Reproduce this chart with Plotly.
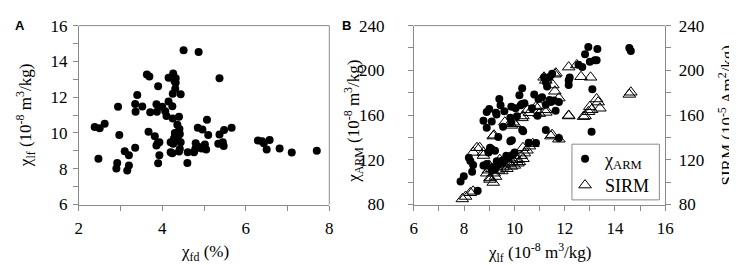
import plotly.graph_objects as go

# ---------------- Data ----------------
# Panel A: chi_fd (%) vs chi_lf (1e-8 m3/kg)
chi_fd = [4.51, 4.87, 3.63, 3.69, 4.15, 4.26, 4.32, 4.29, 4.32, 3.90, 3.40, 5.37, 4.31, 4.25, 4.44,
          2.94, 3.35, 3.52, 3.36, 3.86, 3.71, 3.87, 4.00, 4.07, 4.10, 4.15, 4.24, 4.25, 4.40, 4.36,
          4.41, 4.42, 4.37, 4.32, 4.26, 4.20, 3.67, 3.82, 3.89, 3.93, 3.86, 3.90, 3.93, 4.20, 4.24,
          4.44, 4.42, 4.40, 4.61, 4.60, 4.79, 4.80, 4.76, 4.85, 4.96, 5.07, 5.10, 4.88, 4.94, 5.02,
          5.05, 5.34, 5.37, 5.45, 5.47, 5.48, 5.66, 2.38, 2.50, 2.62, 2.47, 2.97, 3.10, 3.20, 3.35,
          2.92, 2.90, 3.20, 3.16, 6.29, 6.39, 6.43, 6.57, 6.50, 6.81, 7.10, 7.70, 4.30, 4.34, 4.28]
chi_lf_a = [14.62, 14.53, 13.27, 13.16, 13.08, 13.32, 13.06, 12.90, 12.80, 12.61, 12.12, 13.06, 12.47, 12.19, 12.16,
            11.47, 11.62, 11.48, 11.19, 11.61, 11.16, 11.19, 11.46, 11.21, 10.95, 11.76, 11.50, 10.81, 10.91, 10.46,
            10.22, 9.94, 9.74, 9.56, 9.39, 9.48, 10.07, 9.82, 9.43, 9.48, 9.30, 8.30, 8.75, 8.92, 8.87,
            9.48, 9.10, 8.96, 8.92, 8.32, 9.10, 9.43, 8.92, 10.29, 10.20, 10.74, 9.89, 9.22, 9.13, 9.36,
            9.08, 9.39, 9.91, 9.48, 9.27, 10.17, 10.29, 10.34, 10.26, 10.52, 8.56, 9.88, 8.98, 8.75, 9.18,
            8.32, 8.01, 8.18, 7.90, 9.58, 9.53, 9.43, 9.60, 9.08, 9.13, 8.91, 9.01, 10.00, 9.85, 9.70]

# Panel B: chi_lf vs chi_ARM (1e-8 m3/kg)
arm_x = [14.57, 14.63, 12.94, 13.30, 12.81, 13.20, 13.00, 13.27, 12.16, 12.16, 12.20, 13.10, 13.07,
         11.18, 11.25, 11.30, 10.31, 10.20, 10.79, 10.96, 9.40, 9.45, 9.88, 10.05, 10.25, 11.25, 11.45,
         11.58, 11.77, 8.90, 9.27, 11.64, 9.29, 9.84, 10.10, 8.77, 9.10, 8.90, 9.36, 9.55, 9.88, 10.31,
         10.35, 10.92, 11.25, 11.77, 9.84, 9.90, 10.57, 10.86, 9.03, 9.10, 9.23, 8.97, 8.19, 8.25, 8.36,
         8.32, 8.77, 8.90, 9.16, 10.01, 9.92, 9.68, 9.75, 9.55, 9.49, 9.30, 9.36, 9.23, 9.10, 7.99, 7.86,
         8.54, 9.00, 9.60, 10.30, 10.70, 11.40, 11.10, 10.40, 11.50, 11.40, 12.55, 12.70]
arm_y = [220.1, 217.3, 220.9, 219.2, 214.5, 209.0, 207.6, 209.0, 191.0, 186.9, 193.5, 183.2, 145.0,
         193.8, 189.6, 185.5, 184.1, 177.7, 178.5, 174.4, 174.4, 168.8, 167.5, 166.1, 168.8, 169.4, 171.6,
         173.0, 171.6, 162.8, 162.0, 163.9, 160.5, 157.7, 159.0, 155.0, 154.2, 148.6, 140.3, 149.5, 153.4, 146.7,
         145.5, 159.3, 146.7, 139.5, 136.5, 137.5, 135.3, 135.1, 130.8, 129.4, 128.0, 126.5, 121.8, 119.0, 115.4,
         109.3, 114.9, 116.2, 113.4, 126.5, 124.3, 123.7, 121.0, 119.6, 116.9, 118.6, 115.9, 111.8, 110.4, 105.2, 100.5,
         92.2, 165.5, 163.5, 170.0, 166.0, 173.5, 176.0, 170.5, 197.0, 194.0, 205.0, 203.0]

# Panel B: chi_lf vs SIRM (1e-5 Am2/kg)
sirm_x = [14.57, 14.63, 13.03, 12.65, 12.16, 12.48, 11.61, 11.65, 11.18, 11.25, 11.53, 11.61, 11.77, 12.16,
          12.75, 13.00, 13.07, 12.95, 13.27, 13.33, 13.40, 11.50, 11.25, 10.86, 11.00, 10.53, 10.60, 10.34,
          10.30, 9.95, 9.82, 9.62, 9.19, 8.62, 8.77, 8.36, 8.51, 8.77, 9.16, 8.97, 9.16, 9.03, 9.03, 9.42,
          9.55, 9.36, 9.82, 9.88, 10.14, 10.20, 10.34, 10.27, 10.34, 10.60, 10.73, 10.01, 9.88, 10.99, 11.25,
          12.16, 12.81, 11.45, 11.77, 7.93, 8.06, 8.25, 8.36, 9.00, 9.10, 9.20, 9.30, 9.50, 9.60, 9.70, 9.90,
          10.00, 10.10, 9.25, 8.90, 9.40, 10.40, 10.50]
sirm_y = [178.5, 180.4, 193.8, 194.3, 202.9, 204.8, 196.5, 197.5, 193.8, 191.0, 186.9, 181.3, 175.2, 159.2,
          158.6, 167.5, 164.7, 163.0, 174.4, 171.6, 166.1, 142.5, 164.7, 167.5, 168.5, 164.7, 162.0, 159.2,
          157.5, 153.6, 152.2, 153.6, 142.0, 130.8, 126.6, 126.6, 130.8, 123.8, 141.2, 110.7, 99.7, 103.8, 102.4, 120.1,
          113.4, 110.7, 116.9, 114.1, 116.9, 118.2, 120.9, 123.7, 130.8, 132.2, 134.4, 152.2, 150.8, 161.3, 162.4,
          159.7, 159.2, 141.2, 138.4, 85.0, 87.2, 90.5, 91.8, 115.0, 112.0, 108.0, 114.0, 110.0, 116.0, 112.0, 118.0,
          115.0, 120.0, 105.0, 108.0, 117.0, 126.0, 128.5]

# ---------------- Figure ----------------
W, H = 737, 265
SERIF = "Times New Roman"
SANS = "Liberation Sans"
LINE = "#8a8a8a"

def px_x(p):
    return p / W

def px_y(p):
    return 1 - p / H

fig = go.Figure()
fig.add_trace(go.Scatter(x=chi_fd, y=chi_lf_a, mode="markers", xaxis="x", yaxis="y",
                         marker=dict(color="black", size=8), showlegend=False))
fig.add_trace(go.Scatter(x=arm_x, y=arm_y, mode="markers", xaxis="x2", yaxis="y2",
                         name="χ<sub>ARM</sub>", marker=dict(color="black", size=8)))
fig.add_trace(go.Scatter(x=sirm_x, y=sirm_y, mode="markers", xaxis="x2", yaxis="y3",
                         name="SIRM",
                         marker=dict(symbol="triangle-up-open", color="black", size=11,
                                     line=dict(width=1, color="black"))))

ydom = [px_y(202), px_y(9.3)]
common = dict(showgrid=False, zeroline=False, showline=True, linecolor=LINE, linewidth=1,
              ticks="outside", ticklen=5, tickcolor=LINE,
              tickfont=dict(family=SERIF, size=17, color="black"))

fig.update_layout(
    width=W, height=H, margin=dict(l=0, r=0, t=0, b=0),
    paper_bgcolor="white", plot_bgcolor="white",
    font=dict(family=SERIF, color="black"),
    xaxis=dict(domain=[px_x(68), px_x(323)], range=[2, 8], dtick=2, anchor="y",
               minor=dict(dtick=1, ticks="outside", ticklen=5, tickcolor=LINE),
               ticklabelstandoff=3, **common),
    yaxis=dict(domain=ydom, range=[6, 16], dtick=2, anchor="x",
               minor=dict(dtick=1, ticks="outside", ticklen=5, tickcolor=LINE),
               ticklabelstandoff=2, **common),
    xaxis2=dict(domain=[px_x(409), px_x(665)], range=[6, 16], dtick=2, anchor="y2",
                minor=dict(dtick=1, ticks="outside", ticklen=5, tickcolor=LINE),
                ticklabelstandoff=3, **common),
    yaxis2=dict(domain=ydom, range=[80, 240], dtick=40, anchor="x2",
                minor=dict(dtick=20, ticks="outside", ticklen=5, tickcolor=LINE),
                ticklabelstandoff=20, **common),
    yaxis3=dict(range=[80, 240], dtick=40, overlaying="y2", side="right", anchor="x2",
                minor=dict(dtick=20, ticks="outside", ticklen=5, tickcolor=LINE),
                ticklabelstandoff=4, **common),
    legend=dict(x=px_x(563), y=px_y(133), xanchor="left", yanchor="top",
                borderwidth=0, bgcolor="rgba(0,0,0,0)",
                font=dict(family=SERIF, size=18, color="black"),
                itemwidth=30),
)

# frame lines (top/right borders) and legend box
frame = dict(type="line", xref="paper", yref="paper", line=dict(color=LINE, width=1))
fig.add_shape(x0=px_x(68), x1=px_x(323), y0=px_y(9.3), y1=px_y(9.3), **frame)
fig.add_shape(x0=px_x(323), x1=px_x(323), y0=px_y(9.3), y1=px_y(202), **frame)
fig.add_shape(x0=px_x(409), x1=px_x(665), y0=px_y(9.3), y1=px_y(9.3), **frame)
fig.add_shape(type="rect", xref="paper", yref="paper", x0=px_x(570), x1=px_x(659),
              y0=px_y(197), y1=px_y(137), line=dict(color=LINE, width=1))

# axis titles and panel letters
def ann(text, x, y, angle=0, size=16, family=SERIF, bold=False):
    fig.add_annotation(text=f"<b>{text}</b>" if bold else text, x=px_x(x), y=px_y(y),
                       xref="paper", yref="paper", showarrow=False, textangle=angle,
                       xanchor="center", yanchor="middle",
                       font=dict(family=family, size=size, color="black"))

ann("χ<sub>lf</sub> (10<sup>-8</sup> m<sup>3</sup>/kg)", 14, 106, angle=-90, size=17)
ann("χ<sub>fd</sub> (%)", 196, 254, size=17)
ann("χ<sub>lf</sub> (10<sup>-8</sup> m<sup>3</sup>/kg)", 537, 254, size=17)
ann("χ<sub>ARM</sub> (10<sup>-8</sup> m<sup>3</sup>/kg)", 348, 112, angle=-90, size=17)
ann("SIRM (10<sup>-5</sup> Am<sup>2</sup>/kg)", 727, 106, angle=-90, size=17)
ann("A", 8, 9, size=13, family=SANS, bold=True)
ann("B", 341, 9, size=13, family=SANS, bold=True)

fig.write_html("out.html")
